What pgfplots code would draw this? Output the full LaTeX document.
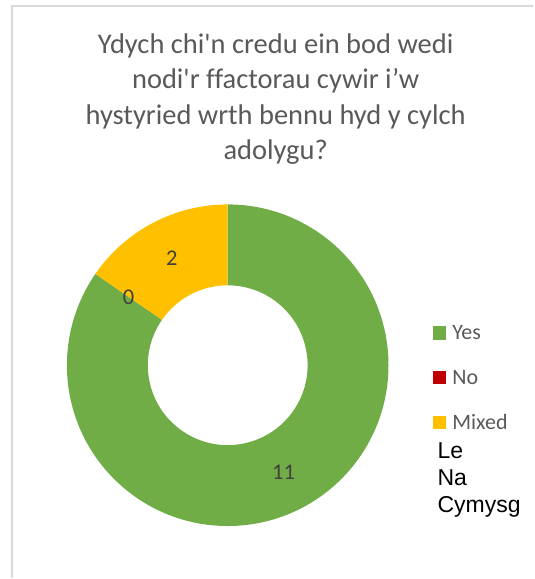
\documentclass[border=0pt]{standalone}
\usepackage{pgfplots}
\pgfplotsset{compat=1.18}
\usepackage{pgfplotstable}
\usepackage{fontspec}
\setmainfont{Carlito}[Ligatures={TeXOff,NoCommon}]
\newfontfamily\arialfont{Liberation Sans}

\definecolor{yesgreen}{HTML}{70AD47}
\definecolor{nored}{HTML}{C00000}
\definecolor{mixyellow}{HTML}{FFC000}
\definecolor{txtgray}{HTML}{595959}
\definecolor{lblgray}{HTML}{404040}
\definecolor{framegray}{HTML}{D9D9D9}

% slices, clockwise from 12 o'clock
\pgfplotstableread{
label value colour
Yes   11    yesgreen
No    0     nored
Mixed 2     mixyellow
}\donutdata

\begin{document}
\begin{tikzpicture}
  \begin{axis}[
      x=1pt, y=1pt,
      xmin=0, xmax=534, ymin=0, ymax=579,
      hide axis, clip=false,
    ]
    % page and chart frame
    \path (axis cs:0,0) rectangle (axis cs:534,579);
    \draw[framegray, line width=1.5pt] (axis cs:12,0) -- (axis cs:12,573) -- (axis cs:534,573);

    % title
    \begin{scope}[every node/.style={txtgray, anchor=base, inner sep=0pt,
        font=\fontsize{28.5}{34}\selectfont}]
      \node at (axis cs:276,525.5) {Ydych chi'n credu ein bod wedi};
      \node at (axis cs:276,490) {nodi'r ffactorau cywir i’w};
      \node at (axis cs:276,454.5) {hystyried wrth bennu hyd y cylch};
      \node at (axis cs:276,419) {adolygu?};
    \end{scope}

    % donut ring from the table
    \pgfplotsextra{%
      \def\cx{228}\def\cy{213.3}%
      \def\Rout{161}\def\Rin{80}\def\Rmid{120.5}%
      \def\total{0}%
      \pgfplotsforeachungrouped \i in {0,1,2}{%
        \pgfplotstablegetelem{\i}{value}\of\donutdata
        \pgfmathsetmacro\total{\total+\pgfplotsretval}%
      }%
      % slices
      \def\startang{90}%
      \pgfplotsforeachungrouped \i in {0,1,2}{%
        \pgfplotstablegetelem{\i}{value}\of\donutdata\let\val\pgfplotsretval
        \pgfplotstablegetelem{\i}{colour}\of\donutdata\let\col\pgfplotsretval
        \pgfmathsetmacro\endang{\startang-\val/\total*360}%
        \ifdim\val pt>0pt
          \pgfmathsetmacro\xa{\cx+\Rout*cos(\startang)}%
          \pgfmathsetmacro\ya{\cy+\Rout*sin(\startang)}%
          \pgfmathsetmacro\xb{\cx+\Rin*cos(\endang)}%
          \pgfmathsetmacro\yb{\cy+\Rin*sin(\endang)}%
          \fill[\col] (axis cs:\xa,\ya)
            arc[start angle=\startang, end angle=\endang, radius=\Rout pt]
            -- (axis cs:\xb,\yb)
            arc[start angle=\endang, end angle=\startang, radius=\Rin pt] -- cycle;
        \fi
        \let\startang\endang
      }%
      % data labels on top
      \def\startang{90}%
      \pgfplotsforeachungrouped \i in {0,1,2}{%
        \pgfplotstablegetelem{\i}{value}\of\donutdata\let\val\pgfplotsretval
        \pgfmathsetmacro\endang{\startang-\val/\total*360}%
        \pgfmathsetmacro\midang{(\startang+\endang)/2}%
        \pgfmathsetmacro\xl{\cx+\Rmid*cos(\midang)}%
        \pgfmathsetmacro\yl{\cy+\Rmid*sin(\midang)}%
        \node[lblgray, inner sep=0pt, font=\fontsize{22.5}{27}\selectfont]
          at (axis cs:\xl,\yl) {\val};
        \let\startang\endang
      }%
    }

    % legend
    \fill[yesgreen]  (axis cs:433.3,239) rectangle (axis cs:446.7,252.5);
    \fill[nored]     (axis cs:433.3,194) rectangle (axis cs:446.7,207.5);
    \fill[mixyellow] (axis cs:433.3,149) rectangle (axis cs:446.7,162.5);
    \begin{scope}[every node/.style={txtgray, anchor=base west, inner sep=0pt,
        font=\fontsize{22}{26}\selectfont}]
      \node at (axis cs:452.7,239) {Yes};
      \node at (axis cs:452.7,194) {No};
      \node at (axis cs:452.7,149) {Mixed};
    \end{scope}
    \begin{scope}[every node/.style={black, anchor=base west, inner sep=0pt,
        font=\arialfont\fontsize{23}{27}\selectfont}]
      \node at (axis cs:438,119.7) {Le};
      \node at (axis cs:438,93) {Na};
      \node at (axis cs:438,65.7) {Cymysg};
    \end{scope}
  \end{axis}
\end{tikzpicture}
\end{document}
